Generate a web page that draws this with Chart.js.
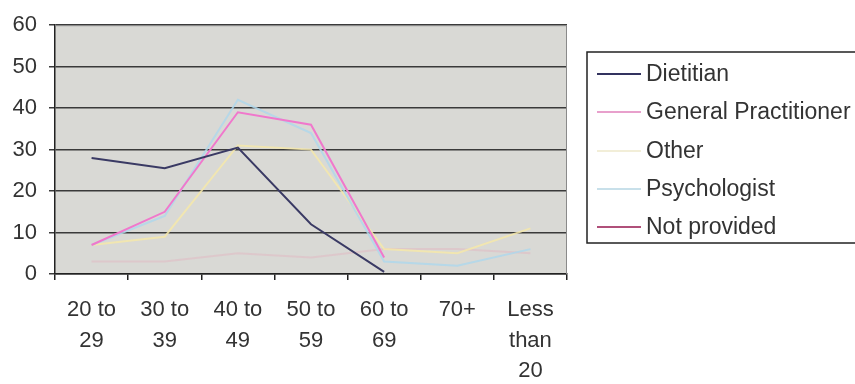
<!DOCTYPE html>
<html>
<head>
<meta charset="utf-8">
<script src="https://cdn.jsdelivr.net/npm/chart.js@4.4.1/dist/chart.umd.min.js"></script>
<style>
  html, body { margin: 0; padding: 0; background: #fff; }
  #wrap { width: 855px; height: 384px; position: relative; }
</style>
</head>
<body>
<div id="wrap"><canvas id="ageChart"></canvas></div>
<script>
// Categorías (grupos de edad) y valores
const categories = [['20 to', '29'], ['30 to', '39'], ['40 to', '49'], ['50 to', '59'], ['60 to', '69'], ['70+'], ['Less', 'than', '20']];
const yTicks = [0, 10, 20, 30, 40, 50, 60];

const dietitian = [28, 25.5, 30.5, 12, 0.5, null, null];
const generalPractitioner = [7, 15, 39, 36, 4, null, null];
const other = [7, 9, 31, 30, 6, 5, 11];
const psychologist = [7, 14, 42, 34, 3, 2, 6];
const notProvided = [3, 3, 5, 4, 6, 6, 5];

const seriesNames = ['Dietitian', 'General Practitioner', 'Other', 'Psychologist', 'Not provided'];
const seriesColors = ['#3a3a64', '#f078cc', 'rgba(245,232,170,0.85)', 'rgba(175,215,235,0.85)', 'rgba(230,170,185,0.35)'];
const legendColors = ['#33335f', '#e8a0cc', '#f2eed8', '#c8e0ea', '#b0507a'];

const FONT = { family: '"Liberation Sans", Arial, sans-serif', size: 22 };

// Fondo gris del área de trazado y borde superior/derecho
const plotBackground = {
  id: 'plotBackground',
  beforeDraw(chart) {
    const { ctx, chartArea: a } = chart;
    ctx.save();
    ctx.fillStyle = '#d9d9d5';
    ctx.fillRect(a.left, a.top, a.right - a.left, a.bottom - a.top);
    ctx.restore();
  },
  afterDatasetsDraw(chart) {
    const { ctx, chartArea: a } = chart;
    ctx.save();
    ctx.strokeStyle = '#8a8a8a';
    ctx.lineWidth = 1;
    ctx.beginPath();
    ctx.moveTo(a.left, a.top + 0.5);
    ctx.lineTo(a.right - 0.5, a.top + 0.5);
    ctx.lineTo(a.right - 0.5, a.bottom);
    ctx.stroke();
    ctx.restore();
  }
};

// Leyenda con marco, al estilo Excel
const boxedLegend = {
  id: 'boxedLegend',
  afterDraw(chart) {
    const { ctx } = chart;
    const x0 = 587, y0 = 52, y1 = 243, rowY = 74, rowGap = 38.3;
    ctx.save();
    ctx.strokeStyle = '#222';
    ctx.lineWidth = 1.5;
    ctx.strokeRect(x0, y0, 300, y1 - y0);
    ctx.font = `23px ${FONT.family}`;
    ctx.textBaseline = 'middle';
    chart.data.datasets.forEach((ds, i) => {
      const y = Math.round(rowY + i * rowGap);
      ctx.strokeStyle = legendColors[i];
      ctx.lineWidth = 2;
      ctx.beginPath();
      ctx.moveTo(597, y);
      ctx.lineTo(641, y);
      ctx.stroke();
      ctx.fillStyle = '#333';
      ctx.fillText(ds.label, 646, y + 1);
    });
    ctx.restore();
  }
};

const datasets = [dietitian, generalPractitioner, other, psychologist, notProvided].map((values, i) => ({
  label: seriesNames[i],
  data: values,
  borderColor: seriesColors[i],
  backgroundColor: seriesColors[i],
  borderWidth: 2,
  pointRadius: 0,
  tension: 0,
  spanGaps: false,
  order: [0, 1, 3, 2, 4][i]
}));

new Chart(document.getElementById('ageChart'), {
  type: 'line',
  data: { labels: categories, datasets },
  options: {
    responsive: true,
    maintainAspectRatio: false,
    animation: false,
    layout: { padding: { top: 22, right: 288, bottom: 0, left: 0 } },
    plugins: {
      legend: { display: false },
      tooltip: { enabled: false }
    },
    scales: {
      x: {
        offset: true,
        grid: {
          offset: true,
          drawOnChartArea: false,
          drawTicks: true,
          tickLength: 6,
          color: '#222',
          lineWidth: 1.5
        },
        border: { color: '#222', width: 1.5 },
        ticks: {
          color: '#333',
          font: { ...FONT, lineHeight: 1.38 },
          padding: 15,
          maxRotation: 0,
          autoSkip: false
        },
        afterFit(scale) { scale.height = 110; }
      },
      y: {
        min: 0,
        max: 60,
        afterBuildTicks(scale) { scale.ticks = yTicks.map(v => ({ value: v })); },
        grid: {
          color: '#3a3a3a',
          lineWidth: 1.5,
          tickLength: 6,
          drawTicks: true
        },
        border: { color: '#222', width: 1.5 },
        ticks: {
          color: '#333',
          font: FONT,
          padding: 12
        },
        afterFit(scale) { scale.width = 55; }
      }
    }
  },
  plugins: [plotBackground, boxedLegend]
});
</script>
</body>
</html>
